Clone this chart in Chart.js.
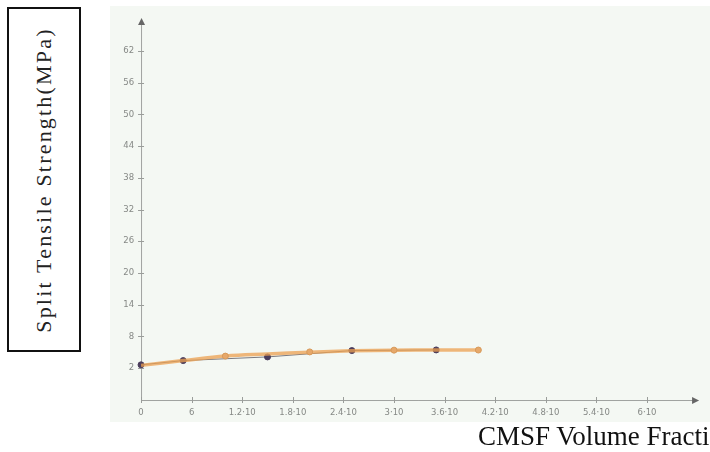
<!DOCTYPE html>
<html>
<head>
<meta charset="utf-8">
<script src="https://cdn.jsdelivr.net/npm/chart.js"></script>
<style>
  body { margin: 0; background: #fff; width: 710px; height: 452px; overflow: hidden; position: relative; }
  #wrap { position: absolute; left: 110px; top: 6px; width: 600px; height: 416px; }
  #ylab { position: absolute; left: 7px; top: 7px; width: 70px; height: 341px; border: 2px solid #111; background: #fff; }
  #ylab span { position: absolute; left: 50%; top: 50%; transform: translate(-50%, -50%) rotate(-90deg); white-space: nowrap;
    font-family: "Liberation Serif", serif; font-size: 22px; letter-spacing: 2.2px; color: #222; }
  #xlab { position: absolute; left: 478px; top: 423px; line-height: 27px; white-space: nowrap; font-family: "Liberation Serif", serif; font-size: 27px; color: #111; }
</style>
</head>
<body>
<div id="ylab"><span>Split Tensile Strength(MPa)</span></div>
<div id="wrap"><canvas id="chart"></canvas></div>
<div id="xlab">CMSF Volume Fraction</div>
<script>
// volume fraction positions (axis units)
var xValues = [0, 5, 10, 15, 20, 25, 30, 35, 40];
// fitted curve (orange)
var fitValues = [2.5, 3.4, 4.25, 4.65, 5.0, 5.25, 5.38, 5.42, 5.4];
// measured points (dark)
var dataX = [0, 5, 15, 25, 35];
var dataY = [2.6, 3.4, 4.1, 5.3, 5.42];
// orange markers
var markX = [10, 20, 30, 40];
var markY = [4.25, 5.05, 5.38, 5.4];

var xTickValues = [0, 6, 12, 18, 24, 30, 36, 42, 48, 54, 60];
var xTickLabels = ["0", "6", "1.2\u00b710", "1.8\u00b710", "2.4\u00b710", "3\u00b710", "3.6\u00b710", "4.2\u00b710", "4.8\u00b710", "5.4\u00b710", "6\u00b710"];
var yTickValues = [2, 8, 14, 20, 26, 32, 38, 44, 50, 56, 62];

function pts(xs, ys) {
  var out = [];
  for (var i = 0; i < xs.length; i++) out.push({x: xs[i], y: ys[i]});
  return out;
}

var axesPlugin = {
  id: 'geoAxes',
  beforeDraw: function(chart) {
    var ctx = chart.ctx, a = chart.chartArea;
    ctx.save();
    ctx.fillStyle = '#f4f8f3';
    ctx.fillRect(a.left, a.top, a.right - a.left, a.bottom - a.top);
    ctx.restore();
  },
  beforeDatasetsDraw: function(chart) {
    var ctx = chart.ctx, xs = chart.scales.x, ys = chart.scales.y;
    var x0 = xs.getPixelForValue(0), yAxisAt = ys.getPixelForValue(-4.06);
    var xEnd = xs.getPixelForValue(65.7), yEnd = ys.getPixelForValue(67.5);
    ctx.save();
    ctx.strokeStyle = '#a0a3a0';
    ctx.lineWidth = 1;
    ctx.beginPath();
    ctx.moveTo(x0 + 0.5, yAxisAt); ctx.lineTo(x0 + 0.5, yEnd);
    ctx.moveTo(x0, yAxisAt + 0.5); ctx.lineTo(xEnd, yAxisAt + 0.5);
    ctx.stroke();
    // ticks
    ctx.strokeStyle = '#9a9d9a';
    ctx.beginPath();
    xTickValues.forEach(function(v) {
      var p = Math.round(xs.getPixelForValue(v)) + 0.5;
      ctx.moveTo(p, yAxisAt - 3); ctx.lineTo(p, yAxisAt + 3);
    });
    yTickValues.forEach(function(v) {
      var p = Math.round(ys.getPixelForValue(v)) + 0.5;
      ctx.moveTo(x0 - 3, p); ctx.lineTo(x0 + 3, p);
    });
    ctx.stroke();
    // arrow heads
    ctx.fillStyle = '#666';
    ctx.beginPath();
    ctx.moveTo(x0 + 0.5, yEnd - 4); ctx.lineTo(x0 - 3, yEnd + 3); ctx.lineTo(x0 + 4, yEnd + 3); ctx.closePath();
    ctx.moveTo(xEnd + 4, yAxisAt + 0.5); ctx.lineTo(xEnd - 3, yAxisAt - 3); ctx.lineTo(xEnd - 3, yAxisAt + 4); ctx.closePath();
    ctx.fill();
    // labels
    ctx.fillStyle = '#858885';
    ctx.font = '8.5px "DejaVu Sans"';
    ctx.textAlign = 'center';
    ctx.textBaseline = 'top';
    xTickValues.forEach(function(v, i) {
      ctx.fillText(xTickLabels[i], xs.getPixelForValue(v), yAxisAt + 9);
    });
    ctx.textAlign = 'right';
    ctx.textBaseline = 'middle';
    yTickValues.forEach(function(v) {
      ctx.fillText(String(v), x0 - 7, ys.getPixelForValue(v));
    });
    ctx.restore();
  }
};

new Chart(document.getElementById('chart'), {
  type: 'scatter',
  data: {
    datasets: [{
      data: pts(dataX, dataY),
      showLine: true,
      borderColor: '#7a7a80',
      borderWidth: 1,
      pointRadius: 3,
      pointBackgroundColor: '#4b3d5c',
      pointBorderColor: '#4b3d5c',
      order: 3
    }, {
      data: pts(xValues, fitValues),
      showLine: true,
      tension: 0.4,
      borderColor: 'rgba(236,160,80,0.75)',
      borderWidth: 3.5,
      pointRadius: 0,
      order: 2
    }, {
      data: pts(markX, markY),
      showLine: false,
      pointRadius: 3,
      pointBackgroundColor: '#e6a86a',
      pointBorderColor: '#d89a5a',
      order: 1
    }]
  },
  options: {
    responsive: true,
    maintainAspectRatio: false,
    animation: false,
    layout: { padding: 0, autoPadding: false },
    plugins: { legend: { display: false }, tooltip: { enabled: false } },
    scales: {
      x: { type: 'linear', display: false, min: -3.68, max: 67.47 },
      y: { type: 'linear', display: false, min: -8.22, max: 70.52 }
    }
  },
  plugins: [axesPlugin]
});
</script>
</body>
</html>
